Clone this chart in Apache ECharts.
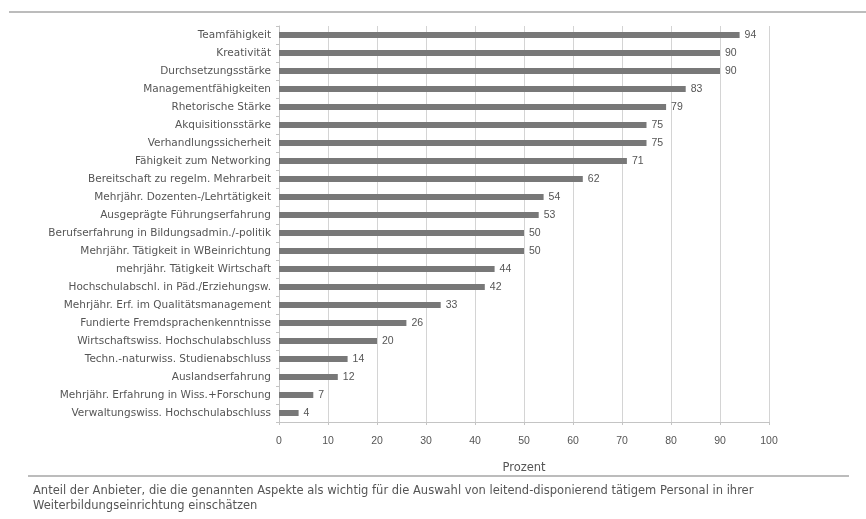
<!DOCTYPE html>
<html>
<head>
<meta charset="utf-8">
<script src="https://cdn.jsdelivr.net/npm/echarts@6/dist/echarts.min.js"></script>
<style>
html,body{margin:0;padding:0;background:#fff;}
#c{width:866px;height:519px;}
</style>
</head>
<body>
<div id="c"></div>
<script>
const categories = [
  "Teamfähigkeit",
  "Kreativität",
  "Durchsetzungsstärke",
  "Managementfähigkeiten",
  "Rhetorische Stärke",
  "Akquisitionsstärke",
  "Verhandlungssicherheit",
  "Fähigkeit zum Networking",
  "Bereitschaft zu regelm. Mehrarbeit",
  "Mehrjähr. Dozenten-/Lehrtätigkeit",
  "Ausgeprägte Führungserfahrung",
  "Berufserfahrung in Bildungsadmin./-politik",
  "Mehrjähr. Tätigkeit in WBeinrichtung",
  "mehrjähr. Tätigkeit Wirtschaft",
  "Hochschulabschl. in Päd./Erziehungsw.",
  "Mehrjähr. Erf. im Qualitätsmanagement",
  "Fundierte Fremdsprachenkenntnisse",
  "Wirtschaftswiss. Hochschulabschluss",
  "Techn.-naturwiss. Studienabschluss",
  "Auslandserfahrung",
  "Mehrjähr. Erfahrung in Wiss.+Forschung",
  "Verwaltungswiss. Hochschulabschluss"
];
const values = [94, 90, 90, 83, 79, 75, 75, 71, 62, 54, 53, 50, 50, 44, 42, 33, 26, 20, 14, 12, 7, 4];
const axisTitle = "Prozent";
const footnoteLines = [
  "Anteil der Anbieter, die die genannten Aspekte als wichtig für die Auswahl von leitend-disponierend tätigem Personal in ihrer",
  "Weiterbildungseinrichtung einschätzen"
];

const chart = echarts.init(document.getElementById('c'), null, {renderer: 'canvas'});
const font = '"Liberation Sans", Arial, sans-serif';
const wide = '"DejaVu Sans", sans-serif';
chart.setOption({
  backgroundColor: '#ffffff',
  animation: false,
  textStyle: {fontFamily: font},
  grid: {left: 279, right: 97, top: 26, bottom: 97, containLabel: false},
  xAxis: {
    type: 'value',
    min: 0, max: 100, interval: 10,
    name: axisTitle,
    nameLocation: 'middle',
    nameGap: 40,
    nameTextStyle: {color: '#555', fontSize: 11.5, fontFamily: wide},
    axisLine: {show: true, lineStyle: {color: '#c4c4c4', width: 1}},
    axisTick: {show: true, length: 3, lineStyle: {color: '#c4c4c4'}},
    axisLabel: {color: '#555', fontSize: 10.5, margin: 14, fontFamily: font},
    splitLine: {show: true, lineStyle: {color: '#d4d4d4', width: 1}}
  },
  yAxis: {
    type: 'category',
    data: categories,
    inverse: true,
    axisLine: {show: true, lineStyle: {color: '#c4c4c4', width: 1}},
    axisTick: {show: true, length: 3, lineStyle: {color: '#c4c4c4'}},
    axisLabel: {color: '#555', fontSize: 10.5, margin: 8, fontFamily: wide}
  },
  series: [{
    type: 'bar',
    data: values,
    barWidth: 6,
    itemStyle: {color: '#787878'},
    label: {show: true, position: 'right', distance: 5, color: '#555', fontSize: 10.5, fontFamily: font}
  }],
  graphic: [
    {type: 'line', shape: {x1: 9, y1: 12, x2: 866, y2: 12}, style: {stroke: '#bcbcbc', lineWidth: 2}},
    {type: 'line', shape: {x1: 28, y1: 476, x2: 849, y2: 476}, style: {stroke: '#bcbcbc', lineWidth: 2}},
    {type: 'text', left: 33, top: 484, style: {text: footnoteLines.join('\n'), fill: '#555', font: '11.5px ' + wide, lineHeight: 15}}
  ]
});
</script>
</body>
</html>
